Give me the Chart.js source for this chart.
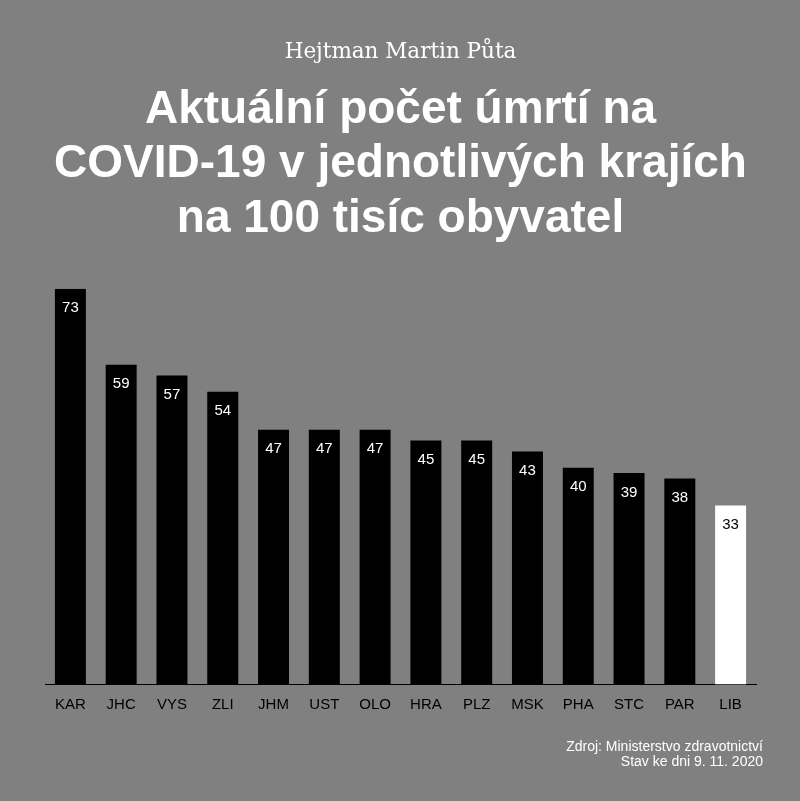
<!DOCTYPE html>
<html><head><meta charset="utf-8">
<style>html,body{margin:0;padding:0;background:#808080;overflow:hidden}</style>
<script src="https://cdn.jsdelivr.net/npm/chart.js@4/dist/chart.umd.min.js"></script>
</head><body>
<canvas id="c" width="800" height="801"></canvas>
<script>
const categories = ['KAR','JHC','VYS','ZLI','JHM','UST','OLO','HRA','PLZ','MSK','PHA','STC','PAR','LIB'];
const values = [73,59,57,54,47,47,47,45,45,43,40,39,38,33];
const highlighted = ['LIB'];
const headerText = 'Hejtman Martin Půta';
const titleLines = ['Aktuální počet úmrtí na','COVID-19 v jednotlivých krajích','na 100 tisíc obyvatel'];
const sourceLines = ['Zdroj: Ministerstvo zdravotnictví','Stav ke dni 9. 11. 2020'];

const SANS = '"Liberation Sans", Arial, Helvetica, sans-serif';
const barColors = categories.map(c => highlighted.includes(c) ? '#ffffff' : '#000000');
const labelColors = categories.map(c => highlighted.includes(c) ? '#000000' : '#ffffff');

const valueLabels = {
  id: 'valueLabels',
  afterDatasetsDraw(chart) {
    const ctx = chart.ctx;
    const meta = chart.getDatasetMeta(0);
    ctx.save();
    ctx.font = '15px ' + SANS;
    ctx.textAlign = 'center';
    ctx.textBaseline = 'middle';
    meta.data.forEach((bar, i) => {
      ctx.fillStyle = labelColors[i];
      ctx.fillText(String(values[i]), bar.x, bar.y + 19.5);
    });
    ctx.restore();
  }
};

const sourceNote = {
  id: 'sourceNote',
  afterDraw(chart) {
    const ctx = chart.ctx;
    ctx.save();
    ctx.font = '14px ' + SANS;
    ctx.fillStyle = '#ffffff';
    ctx.textAlign = 'right';
    ctx.textBaseline = 'alphabetic';
    const right = chart.chartArea.right + 7;
    const base = chart.chartArea.bottom + 66;
    sourceLines.forEach((t, i) => ctx.fillText(t, right, base + i * 15));
    ctx.restore();
  }
};

new Chart(document.getElementById('c'), {
  type: 'bar',
  data: {
    labels: categories,
    datasets: [{
      data: values,
      backgroundColor: barColors,
      borderWidth: 0,
      categoryPercentage: 1,
      barPercentage: 0.61
    }]
  },
  options: {
    responsive: false,
    animation: false,
    layout: { padding: { left: 45, right: 44, top: 0, bottom: 75.5 } },
    plugins: {
      legend: { display: false },
      tooltip: { enabled: false },
      title: {
        display: true,
        text: headerText,
        color: '#ffffff',
        font: { family: '"DejaVu Serif", "Liberation Serif", serif', size: 21.5, weight: 'normal', lineHeight: 1.2 },
        padding: { top: 40, bottom: 0 }
      },
      subtitle: {
        display: true,
        text: titleLines,
        color: '#ffffff',
        font: { family: SANS, size: 46, weight: 'bold', lineHeight: 1.185 },
        padding: { top: 17, bottom: 42.4 }
      }
    },
    scales: {
      x: {
        grid: { display: false, drawTicks: false },
        border: { display: true, color: '#000000', width: 1 },
        ticks: { color: '#000000', font: { family: SANS, size: 15 }, padding: 11.5, maxRotation: 0 }
      },
      y: { display: false, min: 0, max: 73 }
    }
  },
  plugins: [valueLabels, sourceNote]
});
</script>
</body></html>
